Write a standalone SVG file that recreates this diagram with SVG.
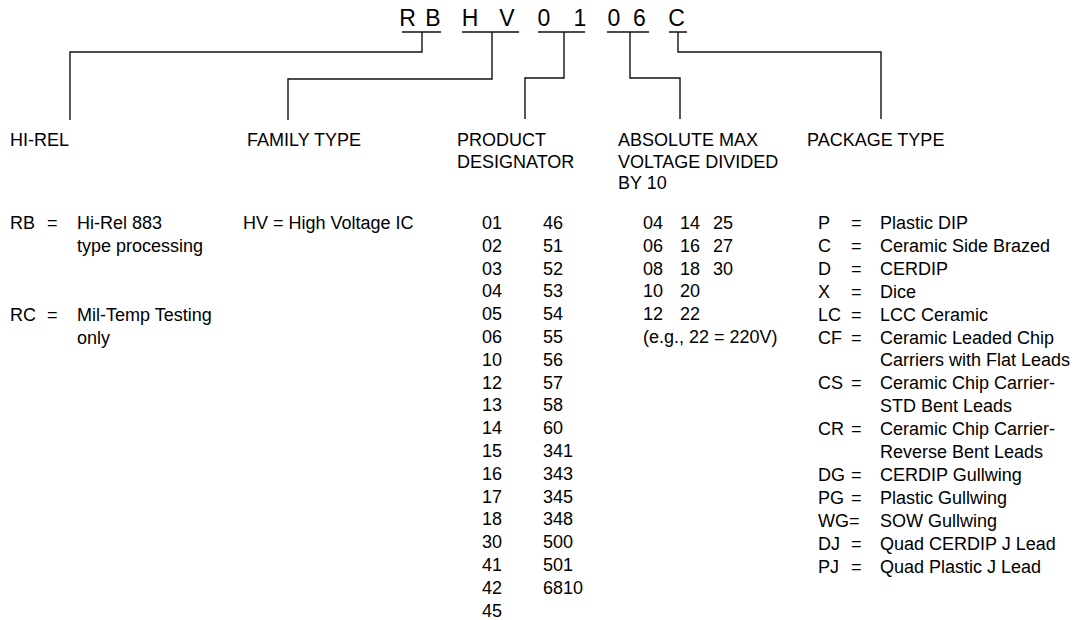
<svg xmlns="http://www.w3.org/2000/svg" width="1090" height="620" viewBox="0 0 1090 620">
<style>
text{font-family:"Liberation Sans",Arial,Helvetica,sans-serif;font-size:18px;fill:#000}
.code{font-size:23px;text-anchor:middle}
.ln{fill:none;stroke:#111;stroke-width:1.4}
</style>
<rect width="1090" height="620" fill="#fff"/>
<g id="part-number">
<text class="code" x="407.5" y="25.5">R</text>
<text class="code" x="433" y="25.5">B</text>
<text class="code" x="470" y="25.5">H</text>
<text class="code" x="507" y="25.5">V</text>
<text class="code" x="544" y="25.5">0</text>
<text class="code" x="580" y="25.5">1</text>
<text class="code" x="614" y="25.5">0</text>
<text class="code" x="639.5" y="25.5">6</text>
<text class="code" x="676.5" y="25.5">C</text>
<path class="ln" d="M402,32H441M462,32H519M538,32H585M607,32H649M669,32H687"/>
</g>
<g id="connectors">
<path class="ln" d="M422,32V52H70V120"/>
<path class="ln" d="M492,32V79H288V120"/>
<path class="ln" d="M564,32V78H525V119"/>
<path class="ln" d="M630,32V78H680V119"/>
<path class="ln" d="M678,32V52H881V119"/>
</g>
<g id="hi-rel">
<text x="10" y="146">HI-REL</text>
<text x="10" y="229">RB</text><text x="47" y="229">=</text><text x="77" y="229">Hi-Rel 883</text>
<text x="77" y="252">type processing</text>
<text x="10" y="321">RC</text><text x="47" y="321">=</text><text x="77" y="321">Mil-Temp Testing</text>
<text x="77" y="344">only</text>
</g>
<g id="family-type">
<text x="247" y="146">FAMILY TYPE</text>
<text x="243" y="229">HV = High Voltage IC</text>
</g>
<g id="product-designator">
<text x="457" y="146">PRODUCT</text>
<text x="457" y="168">DESIGNATOR</text>
<text x="482" y="229">01</text><text x="543" y="229">46</text>
<text x="482" y="251.8">02</text><text x="543" y="251.8">51</text>
<text x="482" y="274.6">03</text><text x="543" y="274.6">52</text>
<text x="482" y="297.4">04</text><text x="543" y="297.4">53</text>
<text x="482" y="320.2">05</text><text x="543" y="320.2">54</text>
<text x="482" y="343">06</text><text x="543" y="343">55</text>
<text x="482" y="365.8">10</text><text x="543" y="365.8">56</text>
<text x="482" y="388.6">12</text><text x="543" y="388.6">57</text>
<text x="482" y="411.4">13</text><text x="543" y="411.4">58</text>
<text x="482" y="434.2">14</text><text x="543" y="434.2">60</text>
<text x="482" y="457">15</text><text x="543" y="457">341</text>
<text x="482" y="479.8">16</text><text x="543" y="479.8">343</text>
<text x="482" y="502.6">17</text><text x="543" y="502.6">345</text>
<text x="482" y="525.4">18</text><text x="543" y="525.4">348</text>
<text x="482" y="548.2">30</text><text x="543" y="548.2">500</text>
<text x="482" y="571">41</text><text x="543" y="571">501</text>
<text x="482" y="593.8">42</text><text x="543" y="593.8">6810</text>
<text x="482" y="616.6">45</text>
</g>
<g id="absolute-max-voltage">
<text x="618" y="146">ABSOLUTE MAX</text>
<text x="618" y="167.5">VOLTAGE DIVIDED</text>
<text x="618" y="189">BY 10</text>
<text x="643" y="229">04</text><text x="680" y="229">14</text><text x="713" y="229">25</text>
<text x="643" y="251.8">06</text><text x="680" y="251.8">16</text><text x="713" y="251.8">27</text>
<text x="643" y="274.6">08</text><text x="680" y="274.6">18</text><text x="713" y="274.6">30</text>
<text x="643" y="297.4">10</text><text x="680" y="297.4">20</text>
<text x="643" y="320.2">12</text><text x="680" y="320.2">22</text>
<text x="643" y="343">(e.g., 22 = 220V)</text>
</g>
<g id="package-type">
<text x="807" y="146">PACKAGE TYPE</text>
<text x="818" y="229">P</text><text x="851" y="229">=</text><text x="880" y="229">Plastic DIP</text>
<text x="818" y="251.9">C</text><text x="851" y="251.9">=</text><text x="880" y="251.9">Ceramic Side Brazed</text>
<text x="818" y="274.8">D</text><text x="851" y="274.8">=</text><text x="880" y="274.8">CERDIP</text>
<text x="818" y="297.7">X</text><text x="851" y="297.7">=</text><text x="880" y="297.7">Dice</text>
<text x="818" y="320.6">LC</text><text x="851" y="320.6">=</text><text x="880" y="320.6">LCC Ceramic</text>
<text x="818" y="343.5">CF</text><text x="851" y="343.5">=</text><text x="880" y="343.5">Ceramic Leaded Chip</text>
<text x="880" y="366.4">Carriers with Flat Leads</text>
<text x="818" y="389.3">CS</text><text x="851" y="389.3">=</text><text x="880" y="389.3">Ceramic Chip Carrier-</text>
<text x="880" y="412.2">STD Bent Leads</text>
<text x="818" y="435.1">CR</text><text x="851" y="435.1">=</text><text x="880" y="435.1">Ceramic Chip Carrier-</text>
<text x="880" y="458">Reverse Bent Leads</text>
<text x="818" y="480.9">DG</text><text x="851" y="480.9">=</text><text x="880" y="480.9">CERDIP Gullwing</text>
<text x="818" y="503.8">PG</text><text x="851" y="503.8">=</text><text x="880" y="503.8">Plastic Gullwing</text>
<text x="818" y="526.7">WG</text><text x="849" y="526.7">=</text><text x="880" y="526.7">SOW Gullwing</text>
<text x="818" y="549.6">DJ</text><text x="851" y="549.6">=</text><text x="880" y="549.6">Quad CERDIP J Lead</text>
<text x="818" y="572.5">PJ</text><text x="851" y="572.5">=</text><text x="880" y="572.5">Quad Plastic J Lead</text>
</g>
</svg>
